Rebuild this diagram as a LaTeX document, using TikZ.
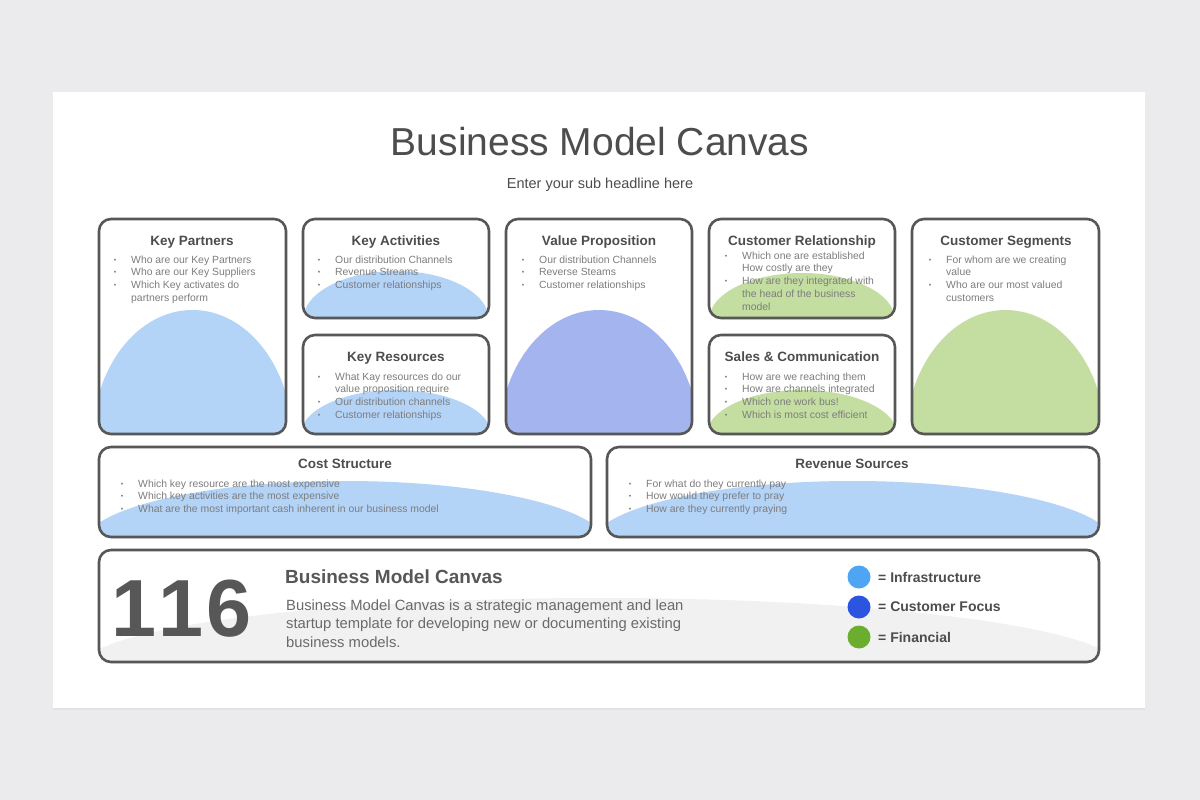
\documentclass[tikz,border=0pt]{standalone}
\usepackage{fontspec}
\setmainfont{Liberation Sans}
\usetikzlibrary{shadows}
\definecolor{pagegray}{HTML}{EBEBED}
\definecolor{framegray}{HTML}{575757}
\definecolor{headgray}{HTML}{4D4D4D}
\definecolor{bodygray}{HTML}{7D7D7D}
\definecolor{infrablue}{HTML}{B3D3F7}
\definecolor{focusblue}{HTML}{A3B4EE}
\definecolor{fingreen}{HTML}{C3DEA0}
\definecolor{swoosh}{HTML}{F1F1F1}
\definecolor{dotinfra}{HTML}{4DA5F4}
\definecolor{dotfocus}{HTML}{2B55E0}
\definecolor{dotfin}{HTML}{6BAD2E}
\tikzstyle{boxframe}=[draw=framegray,line width=2.6pt,rounded corners=12pt]
\tikzstyle{boxback}=[fill=white,rounded corners=12pt,
                     drop shadow={opacity=0.12,shadow xshift=0pt,shadow yshift=-1.5pt}]
\tikzstyle{boxhead}=[anchor=base,inner sep=0pt,text=headgray,
                     font=\fontsize{13.5}{16}\selectfont\bfseries]
\tikzstyle{boxtext}=[anchor=north west,inner sep=0pt,align=left,text=bodygray,
                     font=\fontsize{10.4}{12.7}\selectfont]
\tikzstyle{legenddot}=[circle,inner sep=0pt,minimum size=23pt]
\tikzstyle{legendtext}=[anchor=west,inner sep=0pt,text=headgray,
                        font=\fontsize{14}{16}\selectfont\bfseries]
\newcommand{\bl}{\llap{\raisebox{1pt}{\fontsize{7}{7}\selectfont\textbullet}\hspace{15pt}}}

\begin{document}
\begin{tikzpicture}[x=1pt,y=-1pt]
    \newcommand{\canvasbox}[8]{%
      \fill[boxback] (#1,#2) rectangle (#3,#4);
      \begin{scope}
        \clip[rounded corners=12pt] (#1,#2) rectangle (#3,#4);
        \fill[#5] ({(#1+#3)/2},#6) ellipse [x radius=#7, y radius=#8];
      \end{scope}
      \draw[boxframe] (#1,#2) rectangle (#3,#4);}
    % page and card
    \fill[pagegray] (0,0) rectangle (1200,800);
    \useasboundingbox (0,0) rectangle (1200,800);
    \fill[white,drop shadow={opacity=0.08,shadow xshift=0pt,shadow yshift=-2pt}]
      (53,92) rectangle (1145,708);
    \node (title) at (600,155) [anchor=base,text=headgray,
      font=\fontsize{39}{44}\selectfont]{Business Model Canvas};
    \node (subtitle) at (600,188) [anchor=base,text=headgray,
      font=\fontsize{14.5}{17}\selectfont]{Enter your sub headline here};

    % upper row
    \canvasbox{99}{219}{286}{434}{infrablue}{440}{100}{130}
    \canvasbox{303}{219}{489}{318}{infrablue}{320}{93}{49}
    \canvasbox{303}{335}{489}{434}{infrablue}{436}{96}{46}
    \canvasbox{506}{219}{692}{434}{focusblue}{440}{100}{130}
    \canvasbox{709}{219}{895}{318}{fingreen}{320}{93}{47}
    \canvasbox{709}{335}{895}{434}{fingreen}{436}{96}{46}
    \canvasbox{912}{219}{1099}{434}{fingreen}{440}{100}{130}
    % middle row
    \canvasbox{99}{447}{591}{537}{infrablue}{545}{262}{64}
    \canvasbox{607}{447}{1099}{537}{infrablue}{545}{262}{64}

    \node (kp-head) at (192,245) [boxhead]{Key Partners};
    \node (kp-text) at (131,255.5) [boxtext]{\bl Who are our Key Partners\\
      \bl Who are our Key Suppliers\\ \bl Which Key activates do\\ partners perform};
    \node (ka-head) at (396,245) [boxhead]{Key Activities};
    \node (ka-text) at (335,255.5) [boxtext]{\bl Our distribution Channels\\
      \bl Revenue Streams\\ \bl Customer relationships};
    \node (kr-head) at (396,361) [boxhead]{Key Resources};
    \node (kr-text) at (335,372.5) [boxtext]{\bl What Kay resources do our\\
      value proposition require\\ \bl Our distribution channels\\
      \bl Customer relationships};
    \node (vp-head) at (599,245) [boxhead]{Value Proposition};
    \node (vp-text) at (539,255.5) [boxtext]{\bl Our distribution Channels\\
      \bl Reverse Steams\\ \bl Customer relationships};
    \node (cr-head) at (802,245) [boxhead]{Customer Relationship};
    \node (cr-text) at (742,251.5) [boxtext]{\bl Which one are established\\
      How costly are they\\ \bl How are they integrated with\\
      the head of the business\\ model};
    \node (sc-head) at (802,361) [boxhead]{Sales \& Communication};
    \node (sc-text) at (742,372.5) [boxtext]{\bl How are we reaching them\\
      \bl How are channels integrated\\ \bl Which one work bus!\\
      \bl Which is most cost efficient};
    \node (cs-head) at (1006,245) [boxhead]{Customer Segments};
    \node (cs-text) at (946,255.5) [boxtext]{\bl For whom are we creating\\
      value\\ \bl Who are our most valued\\ customers};
    \node (cost-head) at (345,468) [boxhead]{Cost Structure};
    \node (cost-text) at (138,479.5) [boxtext]{\bl Which key resource are the most expensive\\
      \bl Which key activities are the most expensive\\
      \bl What are the most important cash inherent in our business model};
    \node (rev-head) at (852,468) [boxhead]{Revenue Sources};
    \node (rev-text) at (646,479.5) [boxtext]{\bl For what do they currently pay\\
      \bl How would they prefer to pray\\ \bl How are they currently praying};

    % bottom panel
    \fill[boxback] (99,550) rectangle (1099,662);
    \begin{scope}
      \clip[rounded corners=12pt] (99,550) rectangle (1099,662);
      \fill[swoosh] (600,668) ellipse [x radius=520, y radius=70];
    \end{scope}
    \draw[boxframe] (99,550) rectangle (1099,662);
    \node (number) at (111,636) [anchor=base west,inner sep=0pt,text=framegray,
      font=\fontsize{81}{90}\selectfont\bfseries]{1\kern2.5pt1\kern2.5pt6};
    \node (info-head) at (285,583) [anchor=base west,inner sep=0pt,text=framegray,
      font=\fontsize{19}{22}\selectfont\bfseries]{Business Model Canvas};
    \node (info-text) at (286,599.5) [anchor=north west,inner sep=0pt,align=left,
      text=bodygray!85!black,font=\fontsize{14.8}{18.5}\selectfont]{Business Model
      Canvas is a strategic management and lean\\ startup template for developing
      new or documenting existing\\ business models.};
    \node (dot1) at (859,577) [legenddot,fill=dotinfra]{};
    \node (dot2) at (859,607) [legenddot,fill=dotfocus]{};
    \node (dot3) at (859,637) [legenddot,fill=dotfin]{};
    \node (lab1) at (878,577) [legendtext]{= Infrastructure};
    \node (lab2) at (878,607) [legendtext]{= Customer Focus};
    \node (lab3) at (878,637) [legendtext]{= Financial};
\end{tikzpicture}
\end{document}
